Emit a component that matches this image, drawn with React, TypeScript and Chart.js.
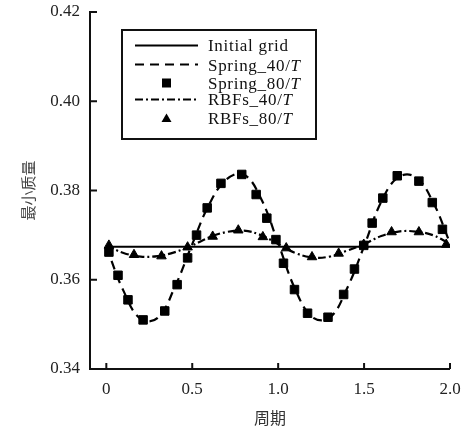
import React, { useEffect, useRef } from 'react';
import { Chart, registerables } from 'chart.js';

Chart.register(...registerables);

// ---- data ----
const initialGridX = [0, 2.0];
const initialGridY = [0.3674, 0.3674];

const curveX = [0, 0.1, 0.2, 0.3, 0.4, 0.5, 0.6, 0.7, 0.8, 0.9, 1.0, 1.1, 1.2, 1.3, 1.4, 1.5, 1.6, 1.7, 1.8, 1.9, 2.0];
const spring40Y = [0.3674, 0.3575, 0.3512, 0.3515, 0.3585, 0.3680, 0.3770, 0.3825, 0.3836, 0.3782, 0.3682, 0.3578, 0.3516, 0.3515, 0.3580, 0.3675, 0.3775, 0.3830, 0.3830, 0.3775, 0.3682];
const rbf40Y = [0.3677, 0.3660, 0.3652, 0.3653, 0.3662, 0.3677, 0.3695, 0.3707, 0.3710, 0.3700, 0.3680, 0.3660, 0.3650, 0.3652, 0.3665, 0.3680, 0.3698, 0.3708, 0.3708, 0.3700, 0.3680];

const spring80X = [0.015, 0.068, 0.126, 0.214, 0.340, 0.412, 0.473, 0.525, 0.587, 0.667, 0.788, 0.872, 0.934, 0.987, 1.031, 1.095, 1.171, 1.290, 1.381, 1.444, 1.498, 1.547, 1.609, 1.693, 1.819, 1.897, 1.956];
const spring80Y = [0.3662, 0.3610, 0.3555, 0.3510, 0.3530, 0.3589, 0.3649, 0.3700, 0.3761, 0.3816, 0.3836, 0.3791, 0.3738, 0.3690, 0.3637, 0.3578, 0.3525, 0.3516, 0.3567, 0.3624, 0.3677, 0.3727, 0.3783, 0.3833, 0.3821, 0.3773, 0.3713];

const rbf80X = [0.015, 0.161, 0.321, 0.473, 0.619, 0.768, 0.911, 1.047, 1.197, 1.352, 1.498, 1.660, 1.819, 1.978];
const rbf80Y = [0.3677, 0.3656, 0.3653, 0.3673, 0.3697, 0.3711, 0.3696, 0.3671, 0.3651, 0.3659, 0.3679, 0.3707, 0.3707, 0.3679];

const xTickValues = [0, 0.5, 1.0, 1.5, 2.0];
const xTickLabels = ['0', '0.5', '1.0', '1.5', '2.0'];
const yTickValues = [0.34, 0.36, 0.38, 0.40, 0.42];
const yTickLabels = ['0.34', '0.36', '0.38', '0.40', '0.42'];

const seriesNames = ['Initial grid', 'Spring_40/T', 'Spring_80/T', 'RBFs_40/T', 'RBFs_80/T'];
const xTitle = '周期';
const yTitle = '最小质量';

const zip = (xs: number[], ys: number[]) => xs.map((x, i) => ({ x, y: ys[i] }));

const SERIF = "'Liberation Serif', 'Times New Roman', 'DejaVu Serif', serif";
const CJK = "'Noto Sans CJK SC', 'Noto Sans', sans-serif";

const axesPlugin = {
  id: 'inwardAxes',
  afterDraw(chart: any) {
    const { ctx, chartArea } = chart;
    const xs = chart.scales.x;
    const ys = chart.scales.y;
    ctx.save();
    ctx.strokeStyle = '#111';
    ctx.lineWidth = 2;
    ctx.lineCap = 'butt';
    ctx.beginPath();
    ctx.moveTo(chartArea.left, chartArea.top - 1);
    ctx.lineTo(chartArea.left, chartArea.bottom);
    ctx.lineTo(chartArea.right, chartArea.bottom);
    ctx.stroke();
    ctx.beginPath();
    for (const v of yTickValues) {
      const py = ys.getPixelForValue(v);
      ctx.moveTo(chartArea.left, py);
      ctx.lineTo(chartArea.left + 7, py);
    }
    for (const v of xTickValues) {
      const px = xs.getPixelForValue(v);
      ctx.moveTo(px, chartArea.bottom);
      ctx.lineTo(px, chartArea.bottom - 6);
    }
    ctx.stroke();
    ctx.restore();
  },
};

const legendPlugin = {
  id: 'boxLegend',
  afterDraw(chart: any) {
    const { ctx, chartArea } = chart;
    const left = chartArea.left + 32;
    const top = chartArea.top + 18;
    const w = 194;
    const h = 109;
    ctx.save();
    ctx.fillStyle = '#fff';
    ctx.fillRect(left, top, w, h);
    ctx.strokeStyle = '#111';
    ctx.lineWidth = 2;
    ctx.strokeRect(left, top, w, h);
    const rows = [15.5, 34.5, 53, 69.5, 88.5].map((d) => top + d);
    const sampleL = left + 13;
    const sampleR = left + 76;
    const textX = left + 86;
    chart.data.datasets.forEach((ds: any, i: number) => {
      const y = rows[i];
      ctx.save();
      if (ds.showLine) {
        ctx.strokeStyle = '#000';
        ctx.lineWidth = 2;
        ctx.setLineDash(ds.borderDash || []);
        ctx.beginPath();
        ctx.moveTo(sampleL, y);
        ctx.lineTo(sampleR, y);
        ctx.stroke();
      } else {
        ctx.fillStyle = '#000';
        const cx = (sampleL + sampleR) / 2;
        if (ds.pointStyle === 'rect') {
          ctx.fillRect(cx - 4.5, y - 4.5, 9, 9);
        } else {
          ctx.beginPath();
          ctx.moveTo(cx, y - 5);
          ctx.lineTo(cx + 5, y + 3.5);
          ctx.lineTo(cx - 5, y + 3.5);
          ctx.closePath();
          ctx.fill();
        }
      }
      ctx.restore();
      const label: string = ds.label;
      const slash = label.lastIndexOf('/');
      ctx.save();
      ctx.fillStyle = '#111';
      ctx.textBaseline = 'middle';
      ctx.textAlign = 'left';
      (ctx as any).letterSpacing = '0.7px';
      const ty = y + (i === 1 || i === 2 ? 2 : 1);
      if (slash >= 0) {
        const head = label.slice(0, slash + 1);
        const tail = label.slice(slash + 1);
        ctx.font = `17px ${SERIF}`;
        ctx.fillText(head, textX, ty);
        const hw = ctx.measureText(head).width;
        ctx.font = `italic 17px ${SERIF}`;
        ctx.fillText(tail, textX + hw, ty);
      } else {
        ctx.font = `17px ${SERIF}`;
        ctx.fillText(label, textX, ty);
      }
      ctx.restore();
    });
    ctx.restore();
  },
};

export default function App() {
  const ref = useRef<HTMLCanvasElement | null>(null);
  useEffect(() => {
    if (!ref.current) return;
    const chart = new Chart(ref.current, {
      type: 'scatter',
      data: {
        datasets: [
          {
            label: seriesNames[0],
            data: zip(initialGridX, initialGridY),
            showLine: true,
            borderColor: '#000',
            borderWidth: 2,
            pointRadius: 0,
          },
          {
            label: seriesNames[1],
            data: zip(curveX, spring40Y),
            showLine: true,
            borderColor: '#000',
            borderWidth: 2.2,
            borderDash: [9, 6],
            tension: 0.4,
            pointRadius: 0,
          },
          {
            label: seriesNames[2],
            data: zip(spring80X, spring80Y),
            showLine: false,
            pointStyle: 'rect',
            pointRadius: 6,
            pointBorderWidth: 1,
            backgroundColor: '#000',
            borderColor: '#000',
          },
          {
            label: seriesNames[3],
            data: zip(curveX, rbf40Y),
            showLine: true,
            borderColor: '#000',
            borderWidth: 2.2,
            borderDash: [8, 3, 2, 3],
            tension: 0.4,
            pointRadius: 0,
          },
          {
            label: seriesNames[4],
            data: zip(rbf80X, rbf80Y),
            showLine: false,
            pointStyle: 'triangle',
            pointRadius: 5.5,
            pointBorderWidth: 1,
            backgroundColor: '#000',
            borderColor: '#000',
          },
        ] as any,
      },
      options: {
        animation: false,
        responsive: false,
        devicePixelRatio: 1,
        layout: { padding: { left: 0, right: 25, top: 12, bottom: 0 } },
        plugins: { legend: { display: false }, tooltip: { enabled: false } },
        scales: {
          x: {
            type: 'linear',
            min: -0.095,
            max: 2.0,
            grid: { display: false, drawTicks: false },
            border: { display: false },
            afterBuildTicks: (s: any) => {
              s.ticks = xTickValues.map((v) => ({ value: v }));
            },
            afterFit: (s: any) => {
              s.height = 61;
              s.paddingLeft = 0;
              s.paddingRight = 0;
            },
            ticks: {
              padding: 10,
              color: '#222',
              font: { family: SERIF, size: 17 },
              maxRotation: 0,
              autoSkip: false,
              callback: (v: any) => {
                const i = xTickValues.findIndex((t) => Math.abs(t - Number(v)) < 1e-9);
                return i >= 0 ? xTickLabels[i] : '';
              },
            },
            title: {
              display: true,
              text: xTitle,
              color: '#333',
              font: { family: CJK, size: 16 },
              padding: { top: 2, bottom: 2 },
            },
          },
          y: {
            type: 'linear',
            min: 0.34,
            max: 0.42,
            grid: { display: false, drawTicks: false },
            border: { display: false },
            afterBuildTicks: (s: any) => {
              s.ticks = yTickValues.map((v) => ({ value: v }));
            },
            afterFit: (s: any) => {
              s.width = 90;
              s.paddingTop = 0;
              s.paddingBottom = 0;
            },
            ticks: {
              padding: 10,
              color: '#222',
              font: { family: SERIF, size: 17 },
              autoSkip: false,
              callback: (v: any) => {
                const i = yTickValues.findIndex((t) => Math.abs(t - Number(v)) < 1e-9);
                return i >= 0 ? yTickLabels[i] : '';
              },
            },
            title: {
              display: true,
              text: yTitle,
              color: '#444',
              font: { family: CJK, size: 15 },
              padding: { top: 19, bottom: 19 },
            },
          },
        },
      } as any,
      plugins: [axesPlugin, legendPlugin],
    });
    return () => chart.destroy();
  }, []);
  return (
    <div style={{ position: 'absolute', left: 0, top: 0, width: 475, height: 430, background: '#fff' }}>
      <canvas ref={ref} width={475} height={430} style={{ display: 'block' }} />
    </div>
  );
}
